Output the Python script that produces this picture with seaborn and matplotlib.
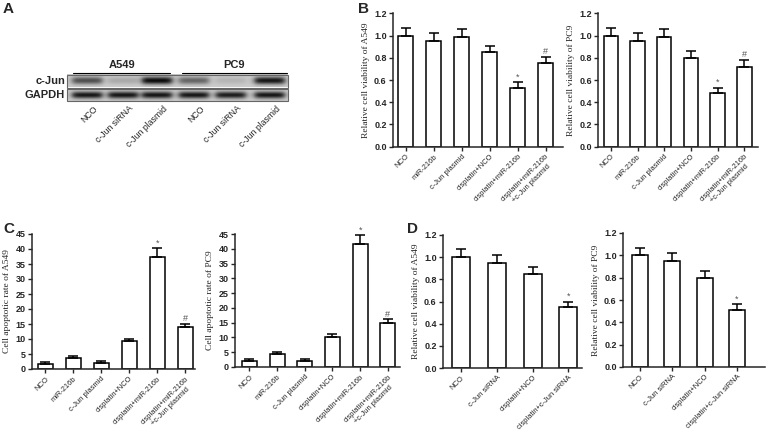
import numpy as np
import pandas as pd
import seaborn as sns
import matplotlib.pyplot as plt

sns.set_style('ticks')
plt.rcParams['font.family'] = ['Liberation Sans', 'DejaVu Sans']

W, H = 770, 437

# ---- data ----
lanes_a = ['NCO', 'c-Jun siRNA', 'c-Jun plasmid']
cjun_a549 = [0.55, 0.15, 0.85]
cjun_pc9 = [0.45, 0.10, 0.80]
gapdh_a549 = [0.80, 0.80, 0.80]
gapdh_pc9 = [0.80, 0.78, 0.80]

groups_bc = ['NCO', 'miR-216b', 'c-Jun plasmid', 'cisplatin+NCO',
             'cisplatin+miR-216b', 'cisplatin+miR-216b\n+c-Jun plasmid']
via_a549_b = [1.00, 0.95, 0.99, 0.85, 0.53, 0.75]
via_a549_b_err = [0.07, 0.07, 0.07, 0.06, 0.05, 0.06]
via_pc9_b = [1.00, 0.95, 0.99, 0.80, 0.48, 0.72]
via_pc9_b_err = [0.07, 0.07, 0.07, 0.06, 0.05, 0.06]
marks_bc = ['', '', '', '', '*', '#']

apo_a549 = [1.8, 3.8, 2.0, 9.2, 37.3, 14.0]
apo_a549_err = [0.6, 0.7, 0.6, 0.9, 3.0, 1.0]
apo_pc9 = [1.9, 4.5, 2.0, 10.2, 41.6, 15.0]
apo_pc9_err = [0.7, 0.7, 0.7, 0.9, 3.0, 1.1]

groups_d = ['NCO', 'c-Jun siRNA', 'cisplatin+NCO', 'cisplatin+c-Jun siRNA']
via_a549_d = [1.00, 0.95, 0.85, 0.55]
via_a549_d_err = [0.07, 0.07, 0.06, 0.05]
via_pc9_d = [1.00, 0.95, 0.80, 0.51]
via_pc9_d_err = [0.07, 0.07, 0.06, 0.05]
marks_d = ['', '', '', '*']

fig = plt.figure(figsize=(W / 100, H / 100), dpi=100)


def px_axes(x0, x1, y0, y1):
    return fig.add_axes([x0 / W, 1 - y1 / H, (x1 - x0) / W, (y1 - y0) / H])


def bar_panel(box, xlim, ylim, yticks, fmt, groups, vals, errs, marks, ylab, width):
    ax = px_axes(*box)
    df = pd.DataFrame({'group': groups, 'value': vals})
    sns.barplot(data=df, x='group', y='value', color='white', edgecolor='black',
                linewidth=1.1, saturation=1, width=width, errorbar=None, ax=ax)
    x = np.arange(len(vals))
    ax.errorbar(x, vals, yerr=[np.zeros(len(vals)), errs], fmt='none',
                ecolor='black', elinewidth=1.1, capsize=3.5, capthick=1.1)
    top = ylim[1]
    for xi, v, e, m in zip(x, vals, errs, marks):
        if m:
            ax.text(xi, v + e + top * 0.005, m, ha='center', va='bottom',
                    fontsize=6.5, color='#555555')
    ax.set_xlim(*xlim)
    ax.set_ylim(*ylim)
    ax.set_yticks(yticks)
    ax.set_yticklabels([fmt.format(t) for t in yticks], fontsize=6.5,
                       fontweight='bold')
    ax.set_xticks(x)
    ax.set_xticklabels(groups, rotation=45, ha='right', rotation_mode='anchor',
                       fontsize=5.4, multialignment='center')
    ax.set_xlabel('')
    ax.set_ylabel(ylab, family='Liberation Serif', fontsize=6.8, labelpad=3)
    ax.tick_params(length=3, width=1, pad=1.5)
    sns.despine(ax=ax)
    for s in ['left', 'bottom']:
        ax.spines[s].set_linewidth(1.1)
    return ax


yt_v = [0.0, 0.2, 0.4, 0.6, 0.8, 1.0, 1.2]
yt_a = list(range(0, 50, 5))

bar_panel((393, 563, 13.3, 146.7), (-0.46, 5.62), (0, 1.2), yt_v, '{:.1f}',
          groups_bc, via_a549_b, via_a549_b_err, marks_bc,
          'Relative cell viability of A549', 0.54)
bar_panel((598, 758, 13.3, 146.7), (-0.48, 5.51), (0, 1.2), yt_v, '{:.1f}',
          groups_bc, via_pc9_b, via_pc9_b_err, marks_bc,
          'Relative cell viability of PC9', 0.54)
bar_panel((32, 195, 234, 369), (-0.48, 5.34), (0, 45), yt_a, '{:d}',
          groups_bc, apo_a549, apo_a549_err, marks_bc,
          'Cell apoptotic rate of A549', 0.54)
bar_panel((235, 400, 234, 367), (-0.52, 5.44), (0, 45), yt_a, '{:d}',
          groups_bc, apo_pc9, apo_pc9_err, marks_bc,
          'Cell apoptotic rate of PC9', 0.54)
bar_panel((443, 582, 235, 368), (-0.5, 3.38), (0, 1.2), yt_v, '{:.1f}',
          groups_d, via_a549_d, via_a549_d_err, marks_d,
          'Relative cell viability of A549', 0.5)
bar_panel((623, 765, 233, 367), (-0.53, 3.87), (0, 1.2), yt_v, '{:.1f}',
          groups_d, via_pc9_d, via_pc9_d_err, marks_d,
          'Relative cell viability of PC9', 0.5)

# ---- panel A: western blot ----
ov = fig.add_axes([0, 0, 1, 1], zorder=-1)
ov.set_xlim(0, W)
ov.set_ylim(H, 0)
ov.axis('off')

centers = [87, 123, 157, 194, 231, 270]
blot_x0, blot_x1 = 67, 288


def blot_row(intens, y0, y1):
    xs = np.linspace(blot_x0, blot_x1, 300)
    ys = np.linspace(-1, 1, 24)
    img = np.full((len(ys), len(xs)), 0.80)
    for c, a in zip(centers, intens):
        hx = 1 / (1 + np.exp((np.abs(xs - c) - 15) / 1.8))
        vy = np.exp(-(ys / 0.6) ** 2)
        img -= a * 0.9 * np.outer(vy, hx)
    ov.imshow(np.clip(img, 0, 1), cmap='gray', vmin=0, vmax=1, aspect='auto',
              extent=(blot_x0, blot_x1, y1, y0), interpolation='bilinear')
    ov.add_patch(plt.Rectangle((blot_x0, y0), blot_x1 - blot_x0, y1 - y0,
                               fill=False, ec='#666666', lw=0.8))


blot_row(cjun_a549 + cjun_pc9, 75, 87.5)
blot_row(gapdh_a549 + gapdh_pc9, 89, 101)
ov.text(65, 81, 'c-Jun', ha='right', va='center', fontsize=8, fontweight='bold')
ov.text(65, 95, 'GAPDH', ha='right', va='center', fontsize=8, fontweight='bold')
ov.plot([73, 170], [73, 73], color='black', lw=0.8)
ov.plot([182, 287], [73, 73], color='black', lw=0.8)
ov.text(122, 70, 'A549', ha='center', va='bottom', fontsize=8, fontweight='bold')
ov.text(234, 70, 'PC9', ha='center', va='bottom', fontsize=8, fontweight='bold')
for c, lab in zip(centers, lanes_a + lanes_a):
    ov.text(c + 6, 104, lab, rotation=45, ha='right', va='top',
            rotation_mode='anchor', fontsize=6.3)

for lab, (x, y) in zip('ABCD', [(3, 2), (358, 2), (3, 222), (407, 222)]):
    ov.text(x, y, lab, ha='left', va='top', fontsize=11, fontweight='bold')

fig.savefig('out.png', dpi=100)
